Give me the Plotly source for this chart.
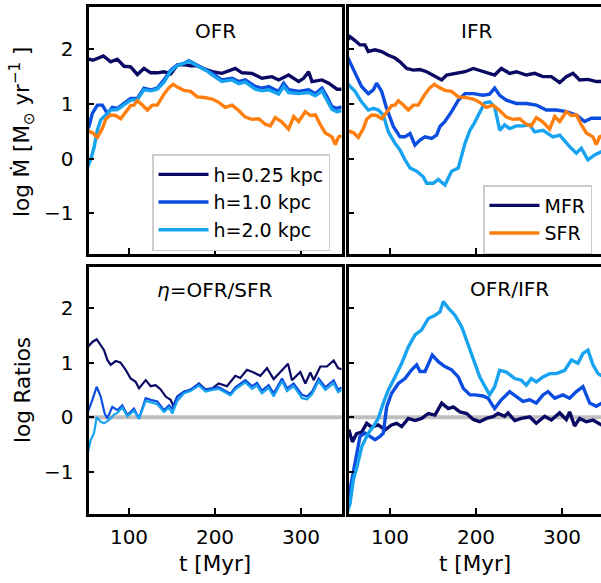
import plotly.graph_objects as go

# ---------------- data ----------------
# Top-left: outflow rate OFR, log Mdot
t_ofr_025 = [50, 53.5, 58, 63.2, 70.2, 78.7, 86.4, 94.2, 101.9, 109.7, 117.4, 125.2, 132.9, 140.7, 148.4,
             156.2, 163.9, 171.7, 179.5, 187.2, 196.9, 208.1, 216, 223.6, 231.4, 243, 254.6, 266.3, 274,
             285.6, 297.3, 303, 308.9, 312.8, 324.4, 332.2, 341.9, 347]
ofr_025 = [1.78, 1.82, 1.80, 1.84, 1.88, 1.77, 1.82, 1.69, 1.68, 1.54, 1.65, 1.57, 1.57, 1.59, 1.55,
           1.71, 1.72, 1.70, 1.70, 1.64, 1.59, 1.56, 1.60, 1.65, 1.57, 1.56, 1.47, 1.50, 1.44,
           1.53, 1.41, 1.47, 1.59, 1.41, 1.44, 1.38, 1.27, 1.27]

t_ofr_10 = [50, 53.5, 57.4, 63.2, 69, 74.8, 80.6, 86.4, 94.2, 101.9, 109.7, 117.4, 125.2, 132.9, 140.7,
            148.4, 156.2, 163.9, 169.7, 175.5, 183.3, 191.1, 196.9, 208.1, 219.8, 227.5, 235.3, 246.9,
            254.6, 262.4, 274, 279.8, 285.6, 297.3, 308.9, 316.7, 324.4, 330.2, 336, 341.9, 347]
ofr_10 = [0.50, 0.59, 0.83, 0.98, 0.98, 0.83, 0.94, 0.92, 1.01, 1.10, 1.10, 1.29, 1.26, 1.29, 1.44,
          1.62, 1.71, 1.74, 1.79, 1.74, 1.68, 1.62, 1.56, 1.44, 1.47, 1.41, 1.44, 1.32,
          1.29, 1.32, 1.23, 1.38, 1.26, 1.23, 1.26, 1.19, 1.29, 1.13, 0.95, 0.92, 0.95]

t_ofr_20 = [50, 52, 55.4, 59.3, 63.2, 67.1, 72.9, 78.7, 86.4, 94.2, 101.9, 109.7, 117.4, 125.2, 132.9,
            140.7, 148.4, 156.2, 163.9, 169.7, 175.5, 183.3, 191.1, 196.9, 208.1, 219.8, 227.5, 235.3,
            246.9, 254.6, 262.4, 274, 279.8, 285.6, 297.3, 308.9, 316.7, 324.4, 330.2, 336, 341.9, 347]
ofr_20 = [-0.35, -0.15, -0.02, 0.20, 0.52, 0.71, 0.80, 0.89, 0.90, 0.98, 1.07, 1.08, 1.26, 1.24, 1.27,
          1.40, 1.60, 1.70, 1.75, 1.78, 1.73, 1.66, 1.60, 1.53, 1.41, 1.44, 1.37, 1.40,
          1.27, 1.24, 1.26, 1.18, 1.32, 1.21, 1.19, 1.21, 1.15, 1.24, 1.08, 0.90, 0.86, 0.88]

# Star formation rate (same curve in both top panels)
t_sfr = [50, 53.5, 58, 63.2, 69, 72.9, 78.7, 84.5, 90.3, 96.1, 101.9, 105.8, 109.7, 115.5, 121.3, 127.1,
         132.9, 140.7, 146.5, 151.5, 156.2, 163.9, 171.6, 179.4, 187.2, 196.9, 204.3, 212, 219.8, 227.5,
         235.3, 243, 250.8, 258.5, 264.3, 270.1, 277.9, 285.6, 291.5, 297.3, 305, 310.9, 316.7, 322.5,
         328.3, 336, 339.9, 343.8, 347]
sfr = [0.48, 0.50, 0.47, 0.39, 0.55, 0.72, 0.80, 0.79, 0.73, 0.86, 0.97, 0.98, 1.06, 0.98, 0.89, 0.98,
       0.98, 1.18, 1.30, 1.36, 1.31, 1.25, 1.23, 1.13, 1.12, 1.09, 1.03, 0.94, 0.98, 0.88,
       0.76, 0.72, 0.73, 0.63, 0.60, 0.75, 0.67, 0.54, 0.77, 0.68, 0.86, 0.79, 0.80, 0.62,
       0.47, 0.40, 0.26, 0.40, 0.42]

# Top-right: inflow rate IFR
t_ifr_025 = [50, 53.5, 59.3, 65.1, 70.9, 74.8, 82.6, 90.3, 98.1, 105.8, 111.6, 119.4, 127.1, 134.9, 142.6,
             152.3, 160.1, 165.9, 175.5, 187.2, 196.9, 208.1, 221.7, 229.4, 239.1, 246.9, 258.5, 268.2,
             277.9, 287.6, 297.3, 305, 312.8, 320.5, 330.2, 339.9, 346]
ifr_025 = [2.15, 2.23, 2.16, 2.08, 2.08, 1.96, 1.99, 1.96, 1.89, 1.84, 1.77, 1.65, 1.62, 1.63, 1.59,
           1.51, 1.44, 1.53, 1.56, 1.59, 1.65, 1.59, 1.53, 1.65, 1.56, 1.59, 1.53, 1.56,
           1.50, 1.50, 1.39, 1.50, 1.56, 1.44, 1.45, 1.41, 1.41]

t_ifr_10 = [50, 53.5, 59.3, 66.9, 74.8, 80.6, 84.5, 90.3, 96.1, 103.9, 111.6, 117.4, 123.3, 129, 134.9,
            140.7, 148.4, 154.2, 158.1, 163.9, 171.6, 179.5, 187.2, 196.9, 208.1, 215.8, 221.7, 227.5,
            235.3, 246.9, 258.5, 270.1, 281.7, 293.4, 305, 316.7, 326.3, 334.1, 346]
ifr_10 = [1.88, 1.77, 1.56, 1.32, 1.19, 1.26, 1.38, 1.23, 0.92, 0.59, 0.40, 0.40, 0.46, 0.25, 0.34,
          0.40, 0.37, 0.43, 0.59, 0.68, 0.86, 1.07, 1.19, 1.19, 1.16, 1.18, 1.29, 1.16,
          1.07, 1.01, 1.01, 0.98, 0.89, 0.89, 0.86, 0.80, 0.68, 0.74, 0.74]

t_ifr_20 = [50, 53.5, 59.3, 66.9, 74.8, 80.6, 86.4, 92.2, 98.1, 105.8, 111.6, 117.4, 123.3, 131, 138.7,
            142.6, 150.3, 156.2, 163.9, 171.6, 179.4, 187.2, 193, 198, 204.3, 210, 216, 221.7, 227.5,
            233.3, 239.1, 246.9, 254.6, 262.4, 268.2, 277.9, 289.5, 297.3, 308.9, 316.7, 322.5, 330.2,
            338, 346]
ifr_20 = [1.38, 1.32, 1.23, 1.04, 0.89, 0.92, 0.89, 0.80, 0.49, 0.28, 0.16, -0.02, -0.17, -0.23, -0.33,
          -0.45, -0.45, -0.38, -0.48, -0.23, -0.17, 0.28, 0.52, 0.65, 0.83, 1.02, 1.04, 0.95, 0.52,
          0.62, 0.55, 0.60, 0.60, 0.62, 0.49, 0.52, 0.40, 0.43, 0.22, 0.10, 0.19, -0.02,
          0.07, 0.13]

# Bottom-left: eta = OFR/SFR (log)
t_eta_025 = [50, 52.3, 57.4, 62.4, 67.1, 71, 74.8, 78.7, 84.5, 90.3, 96.1, 101.9, 107.7, 111.6, 119.4,
             125.2, 131, 136.8, 142.6, 148.4, 151.5, 156.2, 163.9, 171.6, 181.3, 189.1, 196.9, 204.3,
             214, 223.6, 229.4, 237.2, 245, 252.7, 260.5, 268.2, 276, 284.9, 289.5, 299.2, 305, 310.9,
             314.7, 322.5, 330.2, 338, 343.1, 347]
eta_025 = [1.25, 1.29, 1.38, 1.43, 1.32, 1.23, 1.05, 0.96, 1.03, 1.00, 0.87, 0.71, 0.65, 0.53, 0.68,
           0.57, 0.59, 0.51, 0.38, 0.32, 0.21, 0.38, 0.47, 0.50, 0.62, 0.51, 0.53, 0.62,
           0.57, 0.76, 0.72, 0.87, 0.82, 0.76, 0.90, 0.70, 0.83, 0.98, 0.68, 0.83, 0.62, 0.82,
           0.68, 0.93, 0.93, 1.04, 0.90, 0.88]

t_eta_10 = [50, 52.3, 57.4, 62.4, 67.1, 71.7, 74.8, 80.6, 86.4, 92.2, 98.1, 105.8, 111.6, 119.4, 125.2,
            132.9, 140.7, 146.5, 150.3, 156.2, 163.9, 171.6, 181.3, 189.1, 196.9, 204.3, 217.8, 223.6,
            235.3, 243, 248.8, 254.6, 262.4, 268.2, 277.9, 283.7, 291.5, 301.2, 307, 312.8, 320.5,
            328.3, 338, 343.1, 347]
eta_10 = [0.05, 0.10, 0.32, 0.56, 0.38, 0.07, -0.02, 0.19, 0.13, 0.22, 0.04, 0.16, -0.02, 0.35, 0.32,
          0.29, 0.13, 0.22, 0.16, 0.38, 0.47, 0.51, 0.61, 0.50, 0.53, 0.55, 0.43, 0.55,
          0.68, 0.57, 0.63, 0.49, 0.59, 0.44, 0.71, 0.53, 0.62, 0.41, 0.38, 0.47, 0.71,
          0.55, 0.68, 0.50, 0.55]

t_eta_20 = [50, 51.9, 55.4, 59.3, 62.4, 67.1, 71, 76.8, 82.6, 86.4, 92.2, 98.1, 105.8, 111.6, 119.4,
            125.2, 132.9, 140.7, 146.5, 150.3, 156.2, 163.9, 171.6, 181.3, 189.1, 196.9, 204.3, 217.8,
            223.6, 235.3, 243, 248.8, 254.6, 262.4, 268.2, 277.9, 283.7, 291.5, 301.2, 307, 312.8,
            320.5, 328.3, 338, 343.1, 347]
eta_20 = [-0.75, -0.66, -0.42, -0.29, 0.0, -0.08, -0.11, -0.05, 0.05, 0.08, 0.18, 0.02, 0.12, -0.03, 0.30,
          0.28, 0.24, 0.10, 0.18, 0.07, 0.30, 0.44, 0.48, 0.58, 0.47, 0.50, 0.52, 0.40,
          0.51, 0.64, 0.52, 0.58, 0.44, 0.54, 0.38, 0.66, 0.48, 0.57, 0.35, 0.33, 0.42,
          0.66, 0.50, 0.62, 0.46, 0.50]

# Bottom-right: OFR/IFR (log)
t_oi_025 = [50, 52.3, 56.2, 61.2, 67.1, 72.9, 78.7, 86.4, 94.2, 101.9, 107.7, 113.6, 121.3, 129.1, 136.8,
            144.6, 152.3, 160.1, 167.8, 173.6, 181.3, 189.1, 196.9, 204.3, 212, 219.8, 225.6, 233.3,
            237.2, 245, 252.7, 262.4, 270.1, 279.8, 287.6, 297.3, 305, 308.9, 314.7, 320.5, 328.3,
            336, 346]
oi_025 = [-0.30, -0.23, -0.45, -0.30, -0.27, -0.11, -0.18, -0.14, -0.23, -0.14, -0.11, -0.17, -0.02, -0.06,
          -0.02, 0.07, 0.04, 0.26, 0.16, 0.19, 0.10, 0.07, -0.04, -0.08, -0.02, 0.01, 0.07, 0.02,
          0.08, -0.06, -0.02, 0.01, -0.11, 0.02, -0.05, 0.08, -0.04, 0.10, -0.16, -0.02, -0.08,
          -0.05, -0.14]

t_oi_10 = [50, 53.5, 57.4, 61.2, 65.1, 70.9, 76.8, 82.6, 88.4, 92.2, 96.1, 101.9, 109.7, 117.4, 125.2,
           131, 134.9, 140.7, 149.2, 156.2, 163.9, 171.6, 179.4, 185.2, 193, 198.8, 208.1, 213.9,
           221.7, 229.4, 239.1, 246.9, 254.6, 262.4, 270.1, 277.9, 283.7, 291.5, 301.2, 308.9, 316.7,
           324.4, 332.2, 339.9, 346]
oi_10 = [-1.55, -1.33, -1.0, -0.66, -0.35, -0.29, -0.35, -0.41, -0.35, -0.29, 0.19, 0.44, 0.62, 0.71, 0.87,
         0.96, 0.84, 0.84, 1.14, 1.02, 0.93, 0.87, 0.74, 0.53, 0.41, 0.41, 0.39, 0.35,
         0.16, 0.32, 0.47, 0.38, 0.29, 0.32, 0.26, 0.41, 0.47, 0.35, 0.41, 0.35, 0.47,
         0.56, 0.26, 0.20, 0.26]

t_oi_20 = [50, 53.5, 57.4, 61.2, 67.1, 74.8, 80.6, 86.4, 92.2, 98.1, 105.8, 113.6, 121.3, 129.1, 136.8,
           144.6, 152.3, 158.1, 162, 167.8, 175.5, 183.3, 191.1, 197, 204.3, 215.8, 221.7, 227.5,
           235.3, 245, 252.7, 258.5, 264.3, 270.1, 277.9, 285.6, 293.4, 303.1, 310.9, 318.6, 324.4,
           330.2, 336, 341.9, 346]
oi_20 = [-1.75, -1.58, -1.14, -0.93, -0.54, -0.29, -0.17, -0.02, 0.26, 0.50, 0.74, 0.99, 1.29, 1.51, 1.60,
         1.81, 1.87, 1.93, 2.12, 2.00, 1.87, 1.66, 1.32, 1.05, 0.74, 0.41, 0.56, 0.86,
         0.83, 0.71, 0.68, 0.59, 0.71, 0.65, 0.74, 0.80, 0.80, 0.86, 1.05, 0.99, 1.17,
         1.23, 0.96, 0.80, 0.76]

x_ticks = [100, 200, 300]
y_ticks = [-1, 0, 1, 2]
h_labels = ["h=0.25 kpc", "h=1.0 kpc", "h=2.0 kpc"]
panel_titles = ["OFR", "IFR", "<i>η</i>=OFR/SFR", "OFR/IFR"]

# ---------------- styling ----------------
NAVY = "#0a0a64"
BLUE = "#0b4de0"
LIGHT = "#17a3ef"
ORANGE = "#ff7f0e"
FONT = "DejaVu Sans"
W, H = 601, 583

# pixel geometry of the four plotting areas
PX_L = (88.5, 342.0)
PX_R = (348.5, 601.0)
PY_T = (6.5, 253.5)
PY_B = (266.5, 513.5)


def xr(px, t100):
    # t100: pixel of t=100; 0.86 px per Myr
    return [100 + (px[0] - t100) / 0.86, 100 + (px[1] - t100) / 0.86]


def yr(py, v0, s):
    return [(v0 - py[1]) / s, (v0 - py[0]) / s]


def dom_x(px):
    return [px[0] / W, px[1] / W]


def dom_y(py):
    return [1 - py[1] / H, 1 - py[0] / H]


fig = go.Figure()


def add(x, y, color, xa, ya, width, name=None, legend=None):
    fig.add_trace(go.Scatter(
        x=x, y=y, mode="lines", line=dict(color=color, width=width),
        xaxis=xa, yaxis=ya, name=name if name else "series",
        showlegend=legend is not None, legend=legend if legend else "legend",
        hoverinfo="skip"))


LW = 3.4
LW_THIN = 2.2
# top-left
add(t_ofr_025, ofr_025, NAVY, "x", "y", LW, h_labels[0], "legend")
add(t_ofr_10, ofr_10, BLUE, "x", "y", LW, h_labels[1], "legend")
add(t_ofr_20, ofr_20, LIGHT, "x", "y", LW, h_labels[2], "legend")
add(t_sfr, sfr, ORANGE, "x", "y", LW)
# top-right
add(t_ifr_025, ifr_025, NAVY, "x2", "y2", LW, "MFR", "legend2")
add(t_ifr_10, ifr_10, BLUE, "x2", "y2", LW)
add(t_ifr_20, ifr_20, LIGHT, "x2", "y2", LW)
add(t_sfr, sfr, ORANGE, "x2", "y2", LW, "SFR", "legend2")
# bottom-left
add([x_ticks[0] - 60, x_ticks[-1] + 60], [0, 0], "#bfbfbf", "x3", "y3", 4)
add(t_eta_025, eta_025, NAVY, "x3", "y3", LW_THIN)
add(t_eta_10, eta_10, BLUE, "x3", "y3", LW_THIN)
add(t_eta_20, eta_20, LIGHT, "x3", "y3", LW_THIN)
# bottom-right
add([x_ticks[0] - 60, x_ticks[-1] + 60], [0, 0], "#bfbfbf", "x4", "y4", 4)
add(t_oi_025, oi_025, NAVY, "x4", "y4", LW)
add(t_oi_10, oi_10, BLUE, "x4", "y4", LW)
add(t_oi_20, oi_20, LIGHT, "x4", "y4", LW)

axis_common = dict(showline=True, linecolor="black", linewidth=2.8, ticks="inside",
                   ticklen=6, tickwidth=1.8, tickcolor="black", showgrid=False,
                   zeroline=False, tickfont=dict(family=FONT, size=20, color="black"))

fig.update_layout(
    width=W, height=H, margin=dict(l=0, r=0, t=0, b=0),
    paper_bgcolor="white", plot_bgcolor="white",
    font=dict(family=FONT, size=20, color="black"),
    xaxis=dict(domain=dom_x(PX_L), range=xr(PX_L, 129), anchor="y", tickvals=x_ticks,
               showticklabels=False, mirror=True, **axis_common),
    yaxis=dict(domain=dom_y(PY_T), range=yr(PY_T, 158.7, 54.7), anchor="x", tickvals=y_ticks,
               mirror=True, ticklabelstandoff=8, **axis_common),
    xaxis2=dict(domain=dom_x(PX_R), range=xr(PX_R, 390), anchor="y2", tickvals=x_ticks,
                showticklabels=False, mirror=True, **axis_common),
    yaxis2=dict(domain=dom_y(PY_T), range=yr(PY_T, 158.7, 54.7), anchor="x2", tickvals=y_ticks,
                showticklabels=False, mirror=False, **axis_common),
    xaxis3=dict(domain=dom_x(PX_L), range=xr(PX_L, 129), anchor="y3", tickvals=x_ticks,
                mirror=True, ticklabelstandoff=4, **axis_common),
    yaxis3=dict(domain=dom_y(PY_B), range=yr(PY_B, 417.3, 54.6), anchor="x3", tickvals=y_ticks,
                mirror=True, ticklabelstandoff=8, **axis_common),
    xaxis4=dict(domain=dom_x(PX_R), range=xr(PX_R, 390), anchor="y4", tickvals=x_ticks,
                mirror=True, ticklabelstandoff=4, **axis_common),
    yaxis4=dict(domain=dom_y(PY_B), range=yr(PY_B, 417.3, 54.6), anchor="x4", tickvals=y_ticks,
                showticklabels=False, mirror=False, **axis_common),
    legend=dict(x=152 / W, y=1 - 154 / H, xanchor="left", yanchor="top",
                bgcolor="white", bordercolor="#cccccc", borderwidth=1.5,
                font=dict(family=FONT, size=19), itemwidth=50, tracegroupgap=3,
                traceorder="normal"),
    legend2=dict(x=483 / W, y=1 - 185 / H, xanchor="left", yanchor="top",
                 bgcolor="white", bordercolor="#cccccc", borderwidth=1.5,
                 font=dict(family=FONT, size=19), itemwidth=50, tracegroupgap=3,
                 traceorder="normal"),
)

# panel titles
title_pos = [(215, 31), (476, 31), (215, 290), (509, 289)]
for txt, (px, py) in zip(panel_titles, title_pos):
    fig.add_annotation(text=txt, x=px / W, y=1 - py / H, xref="paper", yref="paper",
                       showarrow=False, font=dict(family=FONT, size=20), xanchor="center",
                       yanchor="middle")

# axis titles
fig.add_annotation(text="log Ṁ [M<sub>⊙</sub> yr<sup>−1</sup> ]", x=22 / W, y=1 - 132 / H,
                   xref="paper", yref="paper", showarrow=False, textangle=-90,
                   font=dict(family=FONT, size=21.5), xanchor="center", yanchor="middle")
fig.add_annotation(text="log Ratios", x=22 / W, y=1 - 390 / H,
                   xref="paper", yref="paper", showarrow=False, textangle=-90,
                   font=dict(family=FONT, size=21.5), xanchor="center", yanchor="middle")
for cx in (215, 475):
    fig.add_annotation(text="t [Myr]", x=cx / W, y=1 - 563 / H, xref="paper", yref="paper",
                       showarrow=False, font=dict(family=FONT, size=21.5), xanchor="center",
                       yanchor="middle")

fig.write_html("out.html", config={"displayModeBar": False},
               post_script="document.body.style.margin='0px';document.body.style.overflow='hidden';")
